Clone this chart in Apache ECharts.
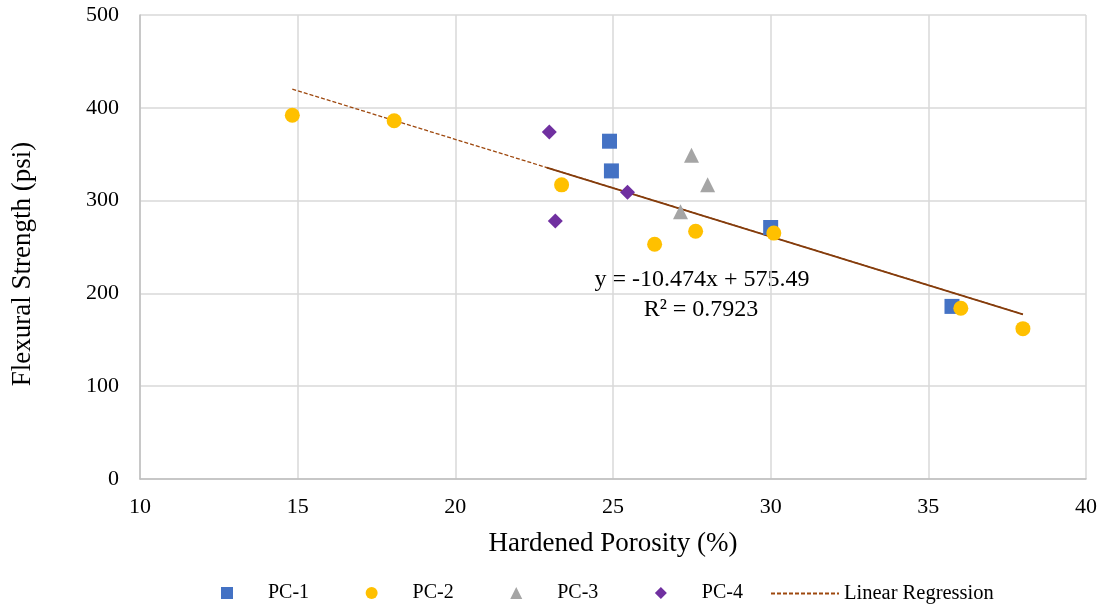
<!DOCTYPE html>
<html>
<head>
<meta charset="utf-8">
<script src="https://cdn.jsdelivr.net/npm/echarts@6/dist/echarts.min.js"></script>
<style>
  html, body { margin: 0; padding: 0; background: #fff; }
  #chart { width: 1104px; height: 606px; }
</style>
</head>
<body>
<div id="chart"></div>
<script>
// values (x = hardened porosity %, y = flexural strength psi)
var pc1 = [[24.89, 364], [24.95, 332], [30.0, 271], [35.75, 186]]
var pc2 = [[14.83, 392], [18.06, 386], [23.37, 317], [26.32, 253], [27.62, 267], [30.1, 265], [36.03, 184], [38.0, 162]]
var pc3 = [[27.49, 349], [28.0, 317], [27.14, 288]]
var pc4 = [[22.98, 374], [23.17, 278], [25.46, 309]]

// regression from the chart's equation
var slope = -10.474
var intercept = 575.49
var r2 = 0.7923
var regRange = [14.83, 38.0]      // dashed trend (legend item)
var regSolidRange = [22.9, 38.0]  // solid overlay seen in the picture

var xTicks = [10, 15, 20, 25, 30, 35, 40]
var yTicks = [0, 100, 200, 300, 400, 500]

var font = '"Liberation Serif", "Times New Roman", serif'

function line(range) {
  return range.map(function (x) { return [x, slope * x + intercept] })
}

var chart = echarts.init(document.getElementById('chart'))

chart.setOption({
  animation: false,
  textStyle: { fontFamily: font, color: '#000' },
  grid: { left: 140, right: 18, top: 15, bottom: 127 },
  xAxis: {
    type: 'value',
    min: xTicks[0],
    max: xTicks[xTicks.length - 1],
    interval: 5,
    name: 'Hardened Porosity (%)',
    nameLocation: 'middle',
    nameGap: 51,
    nameTextStyle: { fontFamily: font, fontSize: 27, color: '#000' },
    axisLine: { lineStyle: { color: '#BFBFBF', width: 1.5 } },
    axisTick: { show: false },
    axisLabel: { fontFamily: font, fontSize: 22, color: '#000', margin: 17 },
    splitLine: { lineStyle: { color: '#D9D9D9', width: 1.5 } }
  },
  yAxis: {
    type: 'value',
    min: yTicks[0],
    max: yTicks[yTicks.length - 1],
    interval: 100,
    axisLine: { show: true, lineStyle: { color: '#BFBFBF', width: 1.5 } },
    axisTick: { show: false },
    axisLabel: { fontFamily: font, fontSize: 22, color: '#000', margin: 21 },
    splitLine: { lineStyle: { color: '#D9D9D9', width: 1.5 } }
  },
  legend: [{
    left: 216,
    top: 578,
    itemWidth: 12,
    itemHeight: 12,
    itemGap: 56.5,
    textStyle: { fontFamily: font, fontSize: 20, color: '#000', padding: [0, 0, 0, 30] },
    data: ['PC-1', 'PC-2', 'PC-3', 'PC-4']
  }, {
    left: 765,
    top: 578,
    itemWidth: 68,
    itemHeight: 12,
    textStyle: { fontFamily: font, fontSize: 20.5, color: '#000' },
    data: [{ name: 'Linear Regression', itemStyle: { opacity: 0 } }]
  }],
  graphic: [{
    type: 'text',
    rotation: Math.PI / 2,
    x: 23,
    y: 264,
    style: {
      text: 'Flexural Strength (psi)',
      font: '27px ' + font,
      fill: '#000',
      textAlign: 'center',
      textVerticalAlign: 'middle'
    }
  }, {
    type: 'text',
    x: 702,
    y: 280,
    style: {
      text: 'y = ' + slope + 'x + ' + intercept,
      font: '24px ' + font,
      fill: '#000',
      textAlign: 'center',
      textVerticalAlign: 'middle'
    }
  }, {
    type: 'text',
    x: 701,
    y: 310,
    style: {
      text: 'R² = ' + r2,
      font: '24px ' + font,
      fill: '#000',
      textAlign: 'center',
      textVerticalAlign: 'middle'
    }
  }],
  series: [{
    name: 'Linear Regression',
    type: 'line',
    data: line(regRange),
    symbol: 'none',
    z: 1,
    itemStyle: { color: '#9E480E' },
    lineStyle: { color: '#9E480E', width: 1.3, type: [4, 2] }
  }, {
    name: 'trend-solid',
    type: 'line',
    data: line(regSolidRange),
    symbol: 'none',
    z: 1,
    lineStyle: { color: '#843C0C', width: 1.8 }
  }, {
    name: 'PC-1',
    type: 'scatter',
    data: pc1,
    symbol: 'rect',
    symbolSize: 15,
    z: 2,
    itemStyle: { color: '#4472C4', opacity: 1 }
  }, {
    name: 'PC-2',
    type: 'scatter',
    data: pc2,
    symbol: 'circle',
    symbolSize: 15,
    z: 3,
    itemStyle: { color: '#FFC000', opacity: 1 }
  }, {
    name: 'PC-3',
    type: 'scatter',
    data: pc3,
    symbol: 'triangle',
    symbolSize: 15,
    z: 2,
    itemStyle: { color: '#A5A5A5', opacity: 1 }
  }, {
    name: 'PC-4',
    type: 'scatter',
    data: pc4,
    symbol: 'diamond',
    symbolSize: 15,
    z: 2,
    itemStyle: { color: '#7030A0', opacity: 1 }
  }]
})
</script>
</body>
</html>
